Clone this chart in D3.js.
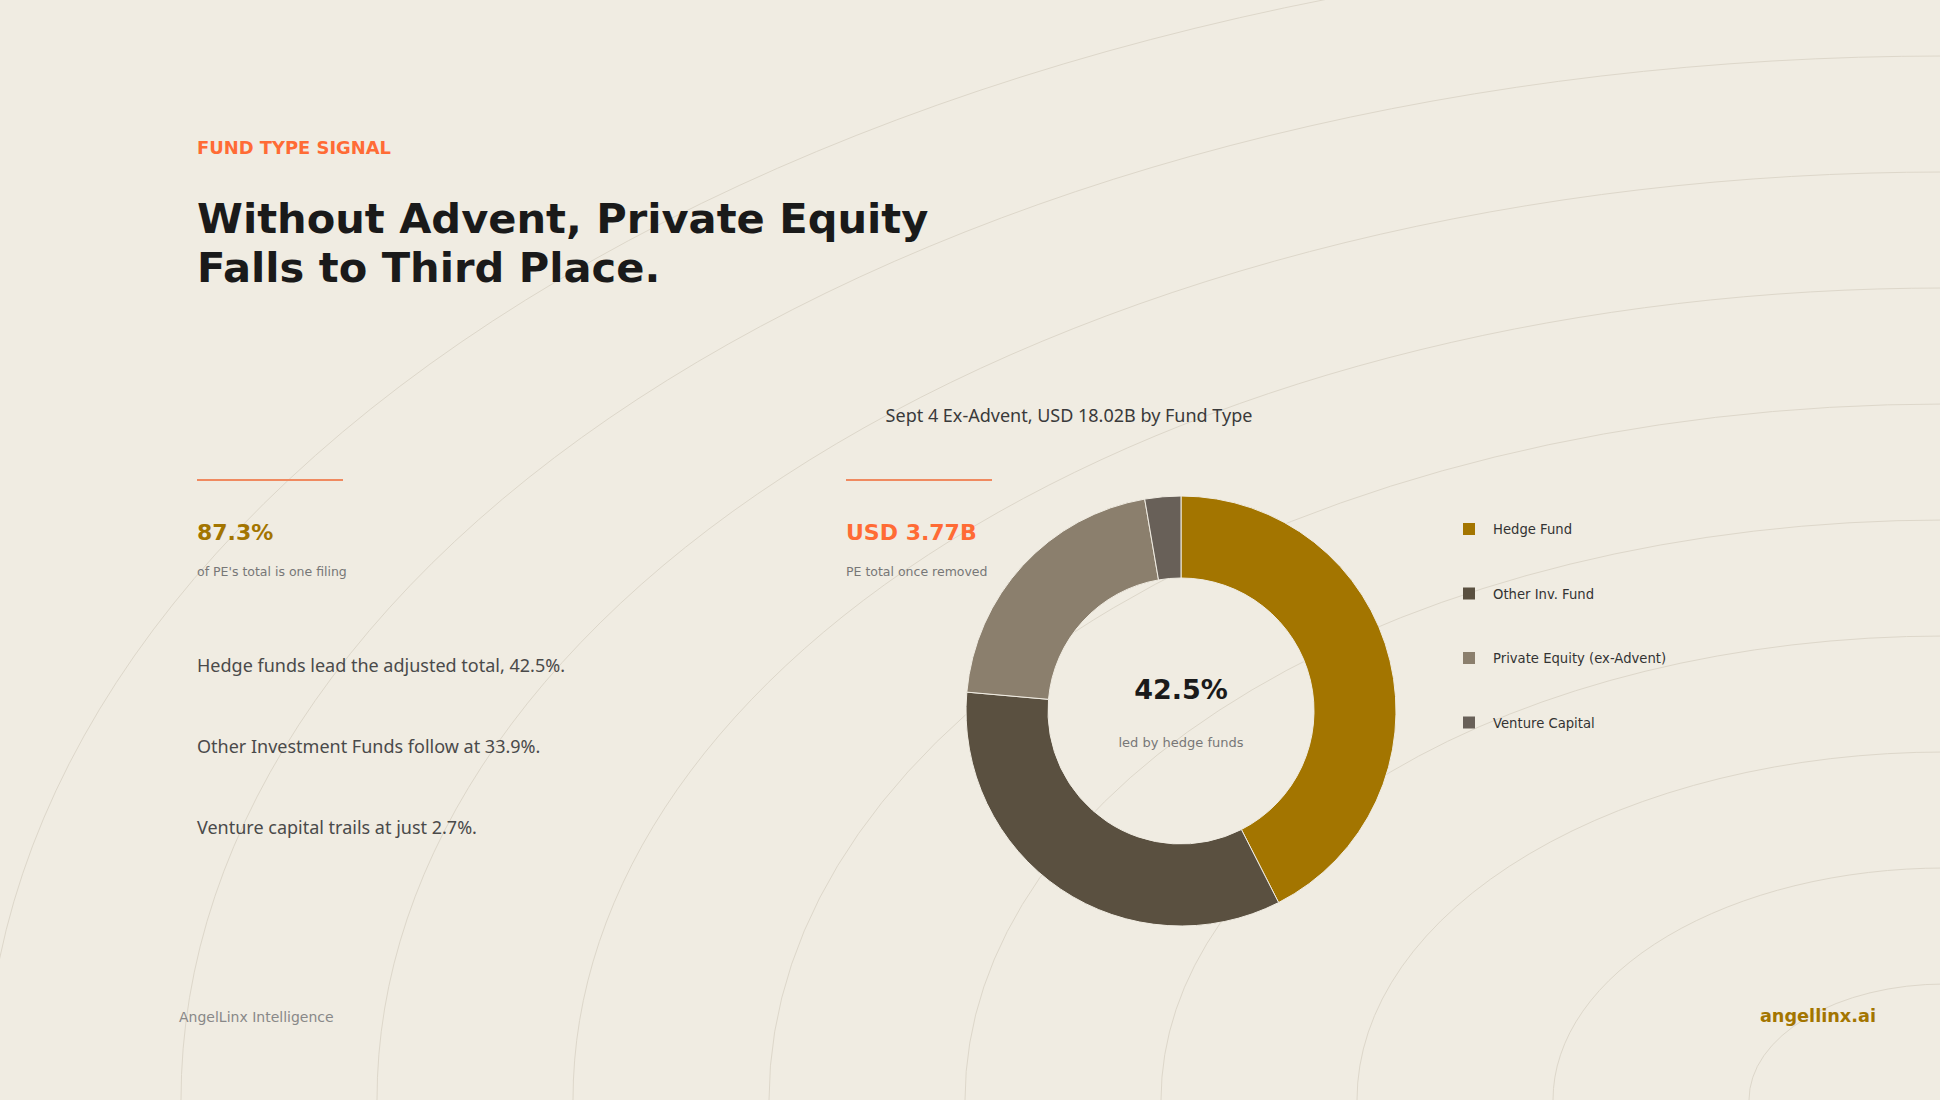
<!DOCTYPE html>
<html><head><meta charset="utf-8">
<script src="https://cdn.jsdelivr.net/npm/d3@7"></script>
<style>body{margin:0;background:#f0ece2;}svg{display:block;}</style>
</head><body><svg id="c" width="1940" height="1100"></svg>
<script>
const categories = ["Hedge Fund","Other Inv. Fund","Private Equity (ex-Advent)","Venture Capital"];
const values = [42.5, 33.9, 20.9, 2.7];
const colors = ["#a37500","#5a5040","#8b7f6d","#686058"];
const bodyLines = ["Hedge funds lead the adjusted total, 42.5%.","Other Investment Funds follow at 33.9%.","Venture capital trails at just 2.7%."];

const svg = d3.select("#c");
svg.append("rect").attr("width",1940).attr("height",1100).attr("fill","#f0ece2");
const bg = svg.append("g");
for (let k=1;k<=10;k++){
  bg.append("ellipse").attr("cx",1945).attr("cy",1100).attr("rx",k*196).attr("ry",k*116)
    .attr("fill","none").attr("stroke","#ddd7ca").attr("stroke-width",1);
}
const F = "'DejaVu Sans', sans-serif";
const N = "'Noto Sans', sans-serif";
function t(x,y,s,size,col,w,anchor,fam){return svg.append("text").attr("x",x).attr("y",y).text(s)
  .attr("font-family",fam||F).attr("font-size",size).attr("fill",col).attr("font-weight",w||"normal").attr("text-anchor",anchor||"start");}
t(197,154,"FUND TYPE SIGNAL",17.9,"#ff6b35","bold");
t(197,233,"Without Advent, Private Equity",41.6,"#1a1a1a","bold");
t(197,282,"Falls to Third Place.",41.6,"#1a1a1a","bold");
svg.append("line").attr("x1",197).attr("x2",343).attr("y1",480).attr("y2",480).attr("stroke","#f08a60").attr("stroke-width",2);
svg.append("line").attr("x1",846).attr("x2",992).attr("y1",480).attr("y2",480).attr("stroke","#f08a60").attr("stroke-width",2);
t(197,540,"87.3%",22,"#a37500","bold");
t(197,576,"of PE's total is one filing",12.5,"#777");
t(846,540,"USD 3.77B",22,"#ff6b35","bold");
t(846,576,"PE total once removed",12.5,"#777");
bodyLines.forEach((s,i)=>t(197,672+i*81,s,18,"#4a4a4a","normal","start",N));
t(1069,422,"Sept 4 Ex-Advent, USD 18.02B by Fund Type",18,"#3a3a3a","normal","middle",N);

const g = svg.append("g").attr("transform","translate(1181,711)");
const pie = d3.pie().sort(null).value(d=>d)(values);
const arc = d3.arc().innerRadius(133).outerRadius(215);
g.selectAll("path").data(pie).join("path").attr("d",arc).attr("fill",(d,i)=>colors[i])
  .attr("stroke","#f0ece2").attr("stroke-width",1);
g.append("text").attr("y",-12).attr("text-anchor","middle").attr("font-family",F).attr("font-size",27)
  .attr("font-weight","bold").attr("fill","#1a1a1a").text(values[0].toFixed(1)+"%");
g.append("text").attr("y",36).attr("text-anchor","middle").attr("font-family",F).attr("font-size",13)
  .attr("fill","#777").text("led by hedge funds");

categories.forEach((c,i)=>{
  const y = 529 + i*64.5;
  svg.append("rect").attr("x",1463).attr("y",y-6).attr("width",12).attr("height",12).attr("fill",colors[i]);
  t(1493,y+5,c,13.2,"#333");
});
t(179,1022,"AngelLinx Intelligence",14,"#888");
t(1876,1022,"angellinx.ai",17.7,"#a37500","bold","end");
</script></body></html>
